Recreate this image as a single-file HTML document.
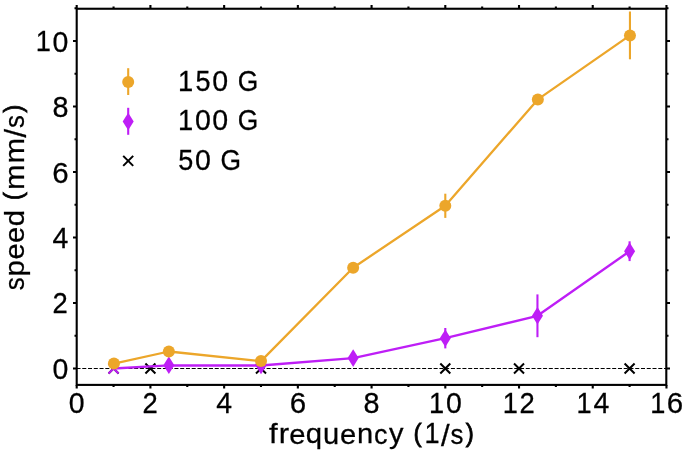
<!DOCTYPE html>
<html><head><meta charset="utf-8"><style>
html,body{margin:0;padding:0;background:#fff;}
svg{display:block;filter:blur(0.35px);}
text{font-family:"Liberation Sans",sans-serif;fill:#000;stroke:#000;stroke-width:0.25px;}
</style></head><body>
<svg width="685" height="452" viewBox="0 0 685 452">
<rect x="0" y="0" width="685" height="452" fill="#fff"/>
<line x1="76.5" y1="368.5" x2="666.3" y2="368.5" stroke="#000" stroke-width="1.09" stroke-dasharray="4.02 1.74"/>
<path d="M108.56,363.50L118.56,373.50M108.56,373.50L118.56,363.50" stroke="#000" stroke-width="2.0" fill="none"/>
<path d="M145.42,363.50L155.42,373.50M145.42,373.50L155.42,363.50" stroke="#000" stroke-width="2.0" fill="none"/>
<path d="M256.00,363.50L266.00,373.50M256.00,373.50L266.00,363.50" stroke="#000" stroke-width="2.0" fill="none"/>
<path d="M440.30,363.50L450.30,373.50M440.30,373.50L450.30,363.50" stroke="#000" stroke-width="2.0" fill="none"/>
<path d="M514.02,363.50L524.02,373.50M514.02,373.50L524.02,363.50" stroke="#000" stroke-width="2.0" fill="none"/>
<path d="M624.60,363.50L634.60,373.50M624.60,373.50L634.60,363.50" stroke="#000" stroke-width="2.0" fill="none"/>
<polyline points="113.56,368.50 168.85,365.30 261.00,365.50 353.15,358.10 445.30,338.20 537.45,315.80 629.60,251.20" fill="none" stroke="#be1ef6" stroke-width="2.3" stroke-linejoin="round"/>
<line x1="445.30" y1="328.00" x2="445.30" y2="348.40" stroke="#be1ef6" stroke-width="2.1"/>
<line x1="537.45" y1="294.40" x2="537.45" y2="337.20" stroke="#be1ef6" stroke-width="2.1"/>
<line x1="629.60" y1="241.30" x2="629.60" y2="261.10" stroke="#be1ef6" stroke-width="2.1"/>
<path d="M108.56,363.50L118.56,373.50M108.56,373.50L118.56,363.50" stroke="#be1ef6" stroke-width="2.0" fill="none"/>
<path d="M168.85,356.50L174.35,365.30L168.85,374.10L163.35,365.30Z" fill="#be1ef6"/>
<path d="M261.00,356.70L266.50,365.50L261.00,374.30L255.50,365.50Z" fill="#be1ef6"/>
<path d="M353.15,349.30L358.65,358.10L353.15,366.90L347.65,358.10Z" fill="#be1ef6"/>
<path d="M445.30,329.40L450.80,338.20L445.30,347.00L439.80,338.20Z" fill="#be1ef6"/>
<path d="M537.45,307.00L542.95,315.80L537.45,324.60L531.95,315.80Z" fill="#be1ef6"/>
<path d="M629.60,242.40L635.10,251.20L629.60,260.00L624.10,251.20Z" fill="#be1ef6"/>
<polyline points="113.91,363.60 168.85,351.50 261.00,361.10 353.15,267.70 445.30,205.80 537.85,99.40 629.95,35.40" fill="none" stroke="#eca62a" stroke-width="2.3" stroke-linejoin="round"/>
<line x1="445.30" y1="193.70" x2="445.30" y2="217.90" stroke="#eca62a" stroke-width="2.1"/>
<line x1="629.95" y1="11.50" x2="629.95" y2="59.30" stroke="#eca62a" stroke-width="2.1"/>
<circle cx="113.91" cy="363.60" r="6.0" fill="#eca62a"/>
<circle cx="168.85" cy="351.50" r="6.0" fill="#eca62a"/>
<circle cx="261.00" cy="361.10" r="6.0" fill="#eca62a"/>
<circle cx="353.15" cy="267.70" r="6.0" fill="#eca62a"/>
<circle cx="445.30" cy="205.80" r="6.0" fill="#eca62a"/>
<circle cx="537.85" cy="99.40" r="6.0" fill="#eca62a"/>
<circle cx="629.95" cy="35.40" r="6.0" fill="#eca62a"/>
<rect x="76.7" y="8.75" width="589.60" height="376.15" fill="none" stroke="#000" stroke-width="2.1"/>
<path d="M76.70,384.90v3.7M76.70,8.75v-3.7M113.56,384.90v2.2M113.56,8.75v-2.2M150.42,384.90v3.7M150.42,8.75v-3.7M187.28,384.90v2.2M187.28,8.75v-2.2M224.14,384.90v3.7M224.14,8.75v-3.7M261.00,384.90v2.2M261.00,8.75v-2.2M297.86,384.90v3.7M297.86,8.75v-3.7M334.72,384.90v2.2M334.72,8.75v-2.2M371.58,384.90v3.7M371.58,8.75v-3.7M408.44,384.90v2.2M408.44,8.75v-2.2M445.30,384.90v3.7M445.30,8.75v-3.7M482.16,384.90v2.2M482.16,8.75v-2.2M519.02,384.90v3.7M519.02,8.75v-3.7M555.88,384.90v2.2M555.88,8.75v-2.2M592.74,384.90v3.7M592.74,8.75v-3.7M629.60,384.90v2.2M629.60,8.75v-2.2M666.46,384.90v3.7M666.46,8.75v-3.7M76.70,368.50h-3.7M666.30,368.50h3.7M76.70,335.75h-2.2M666.30,335.75h2.2M76.70,303.00h-3.7M666.30,303.00h3.7M76.70,270.25h-2.2M666.30,270.25h2.2M76.70,237.50h-3.7M666.30,237.50h3.7M76.70,204.75h-2.2M666.30,204.75h2.2M76.70,172.00h-3.7M666.30,172.00h3.7M76.70,139.25h-2.2M666.30,139.25h2.2M76.70,106.50h-3.7M666.30,106.50h3.7M76.70,73.75h-2.2M666.30,73.75h2.2M76.70,41.00h-3.7M666.30,41.00h3.7M76.70,8.25h-2.2M666.30,8.25h2.2" stroke="#000" stroke-width="2.1" fill="none"/>
<line x1="128.20" y1="68.20" x2="128.20" y2="95.00" stroke="#eca62a" stroke-width="2.1"/>
<circle cx="128.20" cy="81.90" r="6.0" fill="#eca62a"/>
<line x1="128.20" y1="107.80" x2="128.20" y2="134.80" stroke="#be1ef6" stroke-width="2.1"/>
<path d="M128.20,112.70L133.70,121.50L128.20,130.30L122.70,121.50Z" fill="#be1ef6"/>
<path d="M123.20,155.90L133.20,165.90M123.20,165.90L133.20,155.90" stroke="#000" stroke-width="2.0" fill="none"/>
<text transform="matrix(1.0541,0.0000,0.0000,1.0683,68.78,412.70)" font-size="27.0">0</text>
<text transform="matrix(1.0161,0.0000,0.0000,1.0629,142.43,412.60)" font-size="27.0">2</text>
<text transform="matrix(1.0543,0.0000,0.0000,1.0596,216.22,412.60)" font-size="27.0">4</text>
<text transform="matrix(1.0910,0.0000,0.0000,1.0683,289.66,412.70)" font-size="27.0">6</text>
<text transform="matrix(1.0656,0.0000,0.0000,1.0683,363.57,412.70)" font-size="27.0">8</text>
<text transform="matrix(1.0068,0.0000,0.0000,1.0596,429.02,412.60)" font-size="27.0">1</text>
<text transform="matrix(1.0541,0.0000,0.0000,1.0683,445.97,412.70)" font-size="27.0">0</text>
<text transform="matrix(1.0068,0.0000,0.0000,1.0596,502.74,412.60)" font-size="27.0">1</text>
<text transform="matrix(1.0161,0.0000,0.0000,1.0629,519.62,412.60)" font-size="27.0">2</text>
<text transform="matrix(1.0068,0.0000,0.0000,1.0596,576.46,412.60)" font-size="27.0">1</text>
<text transform="matrix(1.0543,0.0000,0.0000,1.0596,593.41,412.60)" font-size="27.0">4</text>
<text transform="matrix(1.0068,0.0000,0.0000,1.0596,650.18,412.60)" font-size="27.0">1</text>
<text transform="matrix(1.0910,0.0000,0.0000,1.0683,666.85,412.70)" font-size="27.0">6</text>
<text transform="matrix(1.0541,0.0000,0.0000,1.0683,52.59,379.00)" font-size="27.0">0</text>
<text transform="matrix(1.0161,0.0000,0.0000,1.0629,52.52,313.40)" font-size="27.0">2</text>
<text transform="matrix(1.0543,0.0000,0.0000,1.0596,52.59,247.90)" font-size="27.0">4</text>
<text transform="matrix(1.0910,0.0000,0.0000,1.0683,52.31,182.50)" font-size="27.0">6</text>
<text transform="matrix(1.0656,0.0000,0.0000,1.0683,52.50,117.00)" font-size="27.0">8</text>
<text transform="matrix(1.0068,0.0000,0.0000,1.0596,35.64,51.40)" font-size="27.0">1</text>
<text transform="matrix(1.0541,0.0000,0.0000,1.0683,52.59,51.50)" font-size="27.0">0</text>
<text transform="matrix(1.1500,0.0000,0.0000,1.0499,269.12,443.40)" font-size="27.0">f</text>
<text transform="matrix(1.1500,0.0000,0.0000,1.0408,278.84,443.40)" font-size="27.0">r</text>
<text transform="matrix(1.0801,0.0000,0.0000,1.0481,289.21,443.51)" font-size="27.0">e</text>
<text transform="matrix(1.0857,0.0000,0.0000,1.0301,305.83,443.24)" font-size="27.0">q</text>
<text transform="matrix(1.0782,0.0000,0.0000,1.0672,323.11,443.50)" font-size="27.0">u</text>
<text transform="matrix(1.0801,0.0000,0.0000,1.0481,340.07,443.51)" font-size="27.0">e</text>
<text transform="matrix(1.0782,0.0000,0.0000,1.0408,356.95,443.40)" font-size="27.0">n</text>
<text transform="matrix(1.0034,0.0000,0.0000,1.0481,373.88,443.51)" font-size="27.0">c</text>
<text transform="matrix(1.0739,0.0000,0.0000,1.0259,389.12,443.27)" font-size="27.0">y</text>
<text transform="matrix(0.9000,0.0000,0.0000,0.9560,413.57,441.62)" font-size="27.0" style="stroke-width:0.8px">(</text>
<text transform="matrix(1.0068,0.0000,0.0000,1.0596,424.38,443.40)" font-size="27.0">1</text>
<text transform="matrix(1.1500,0.0000,0.0000,1.1190,440.89,445.61)" font-size="27.0">/</text>
<text transform="matrix(0.9586,0.0000,0.0000,1.0509,450.50,443.51)" font-size="27.0">s</text>
<text transform="matrix(0.9000,0.0000,0.0000,0.9560,465.65,441.62)" font-size="27.0" style="stroke-width:0.8px">)</text>
<text transform="matrix(0.0000,-0.9586,1.0509,0.0000,24.21,290.27)" font-size="27.0">s</text>
<text transform="matrix(0.0000,-1.0879,1.0308,0.0000,23.94,276.39)" font-size="27.0">p</text>
<text transform="matrix(0.0000,-1.0801,1.0481,0.0000,24.21,259.56)" font-size="27.0">e</text>
<text transform="matrix(0.0000,-1.0801,1.0481,0.0000,24.21,242.95)" font-size="27.0">e</text>
<text transform="matrix(0.0000,-1.0869,1.0539,0.0000,24.20,226.33)" font-size="27.0">d</text>
<text transform="matrix(0.0000,-0.9000,0.9560,0.0000,22.32,200.25)" font-size="27.0" style="stroke-width:0.8px">(</text>
<text transform="matrix(0.0000,-1.1394,1.0408,0.0000,24.10,189.92)" font-size="27.0">m</text>
<text transform="matrix(0.0000,-1.1394,1.0408,0.0000,24.10,163.62)" font-size="27.0">m</text>
<text transform="matrix(0.0000,-1.1500,1.1190,0.0000,26.31,137.49)" font-size="27.0">/</text>
<text transform="matrix(0.0000,-0.9586,1.0509,0.0000,24.21,127.89)" font-size="27.0">s</text>
<text transform="matrix(0.0000,-0.9000,0.9560,0.0000,22.32,112.74)" font-size="27.0" style="stroke-width:0.8px">)</text>
<text transform="matrix(1.0068,0.0000,0.0000,1.0596,178.10,90.70)" font-size="27.1">1</text>
<text transform="matrix(0.9949,0.0000,0.0000,1.0651,195.45,90.80)" font-size="27.1">5</text>
<text transform="matrix(1.0541,0.0000,0.0000,1.0683,212.35,90.80)" font-size="27.1">0</text>
<text transform="matrix(0.9753,0.0000,0.0000,1.0683,237.73,90.80)" font-size="27.1">G</text>
<text transform="matrix(1.0068,0.0000,0.0000,1.0596,178.10,130.15)" font-size="27.1">1</text>
<text transform="matrix(1.0541,0.0000,0.0000,1.0683,195.11,130.25)" font-size="27.1">0</text>
<text transform="matrix(1.0541,0.0000,0.0000,1.0683,212.35,130.25)" font-size="27.1">0</text>
<text transform="matrix(0.9753,0.0000,0.0000,1.0683,237.73,130.25)" font-size="27.1">G</text>
<text transform="matrix(0.9949,0.0000,0.0000,1.0651,178.21,169.70)" font-size="27.1">5</text>
<text transform="matrix(1.0541,0.0000,0.0000,1.0683,195.11,169.70)" font-size="27.1">0</text>
<text transform="matrix(0.9753,0.0000,0.0000,1.0683,220.49,169.70)" font-size="27.1">G</text>
</svg>
</body></html>
